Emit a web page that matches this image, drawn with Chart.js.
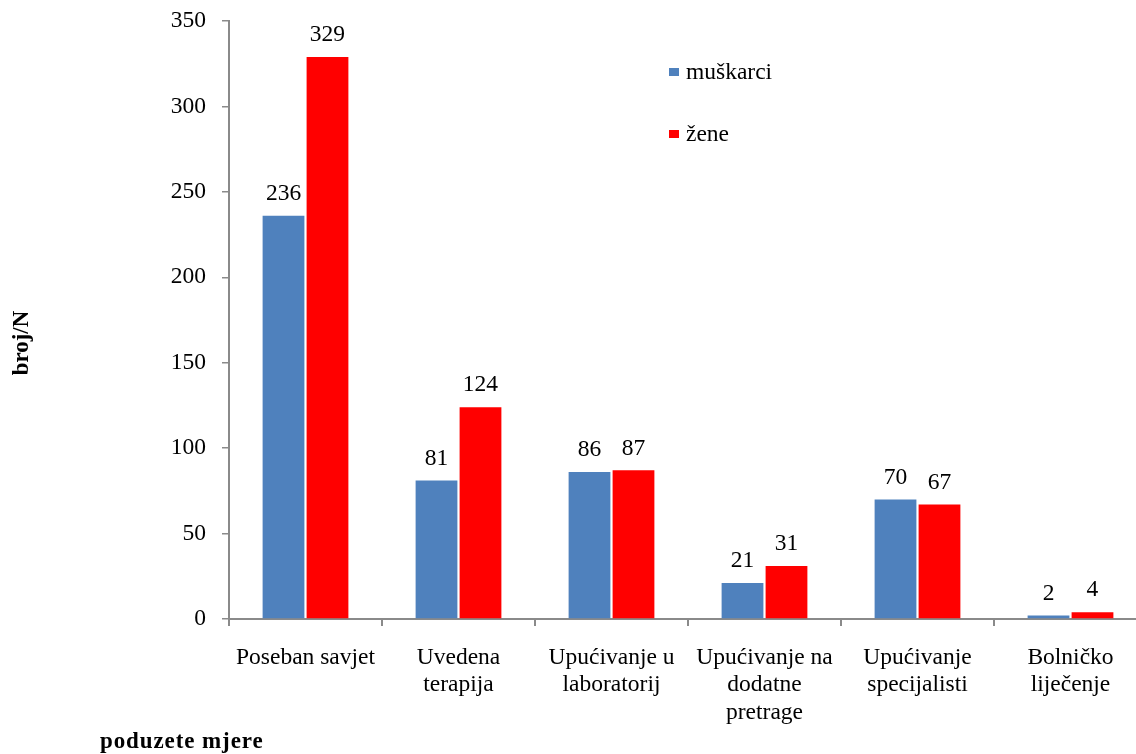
<!DOCTYPE html>
<html>
<head>
<meta charset="utf-8">
<script src="https://cdn.jsdelivr.net/npm/chart.js@4"></script>
<style>
  html, body { margin: 0; padding: 0; background: #fff; overflow: hidden; }
  #wrap { position: relative; width: 1160px; height: 754px; }
</style>
</head>
<body>
<div id="wrap"><canvas id="c"></canvas></div>
<script>
// Poduzete mjere po spolu
const categories = [
  'Poseban savjet',
  ['Uvedena', 'terapija'],
  ['Upućivanje u', 'laboratorij'],
  ['Upućivanje na', 'dodatne', 'pretrage'],
  ['Upućivanje', 'specijalisti'],
  ['Bolničko', 'liječenje']
];
const muskarci = [236, 81, 86, 21, 70, 2];
const zene = [329, 124, 87, 31, 67, 4];
const yTicks = [0, 50, 100, 150, 200, 250, 300, 350];

const FONT = '"Liberation Serif", "Times New Roman", serif';
const AXIS_GRAY = '#8a8a8a';

// value labels above each bar
const valueLabels = {
  id: 'valueLabels',
  afterDatasetsDraw(chart) {
    const ctx = chart.ctx;
    ctx.save();
    ctx.font = '23.5px ' + FONT;
    ctx.fillStyle = '#000';
    ctx.textAlign = 'center';
    ctx.textBaseline = 'middle';
    chart.data.datasets.forEach((ds, di) => {
      chart.getDatasetMeta(di).data.forEach((bar, i) => {
        ctx.fillText(String(ds.data[i]), bar.x, bar.y - 22);
      });
    });
    ctx.restore();
  }
};

// vertical legend inside the plot, plus the two axis titles
const extras = {
  id: 'extras',
  afterDraw(chart) {
    const ctx = chart.ctx;
    ctx.save();
    // legend
    const rows = [72, 134];
    chart.data.datasets.forEach((ds, di) => {
      const y = rows[di];
      ctx.fillStyle = ds.backgroundColor;
      ctx.fillRect(669, y - 4, 10, 8);
      ctx.fillStyle = '#000';
      ctx.font = '23.5px ' + FONT;
      ctx.textAlign = 'left';
      ctx.textBaseline = 'middle';
      ctx.fillText(ds.label, 686, y + 1);
    });
    // y title
    ctx.font = 'bold 23px ' + FONT;
    ctx.fillStyle = '#000';
    ctx.textAlign = 'center';
    ctx.textBaseline = 'middle';
    ctx.translate(22, 343);
    ctx.rotate(-Math.PI / 2);
    ctx.fillText('broj/N', 0, 0);
    ctx.setTransform(1, 0, 0, 1, 0, 0);
    // x title
    ctx.font = 'bold 23px ' + FONT;
    ctx.letterSpacing = '0.9px';
    ctx.textAlign = 'left';
    ctx.fillText('poduzete mjere', 100, 742);
    ctx.restore();
  }
};

new Chart(document.getElementById('c'), {
  type: 'bar',
  data: {
    labels: categories,
    datasets: [
      { label: 'muškarci', data: muskarci, backgroundColor: '#4F81BD', borderWidth: 0 },
      { label: 'žene', data: zene, backgroundColor: '#FF0000', borderWidth: 0 }
    ]
  },
  options: {
    responsive: true,
    maintainAspectRatio: false,
    animation: false,
    devicePixelRatio: 1,
    layout: { padding: { left: 0, top: 21, right: 13, bottom: 0 } },
    datasets: { bar: { categoryPercentage: 0.575, barPercentage: 0.95 } },
    plugins: {
      legend: { display: false },
      tooltip: { enabled: false }
    },
    scales: {
      x: {
        afterFit(s) { s.height = 135; s.paddingLeft = 0; s.paddingRight = 0; },
        grid: {
          display: true,
          drawOnChartArea: false,
          drawTicks: true,
          tickLength: 7,
          color: AXIS_GRAY,
          lineWidth: 2,
          offset: true
        },
        border: { display: true, color: AXIS_GRAY, width: 2 },
        ticks: {
          color: '#000',
          font: { family: FONT, size: 23.5, lineHeight: 1.17 },
          padding: 18,
          maxRotation: 0,
          autoSkip: false
        }
      },
      y: {
        min: 0,
        max: 350,
        afterFit(s) { s.width = 229; s.paddingTop = 0; s.paddingBottom = 0; },
        afterBuildTicks(s) { s.ticks = yTicks.map(v => ({ value: v })); },
        grid: {
          display: true,
          drawOnChartArea: false,
          drawTicks: true,
          tickLength: 7,
          color: AXIS_GRAY,
          lineWidth: 1.5
        },
        border: { display: true, color: AXIS_GRAY, width: 2 },
        ticks: {
          color: '#000',
          font: { family: FONT, size: 23.5 },
          padding: 16
        }
      }
    }
  },
  plugins: [valueLabels, extras]
});
</script>
</body>
</html>
